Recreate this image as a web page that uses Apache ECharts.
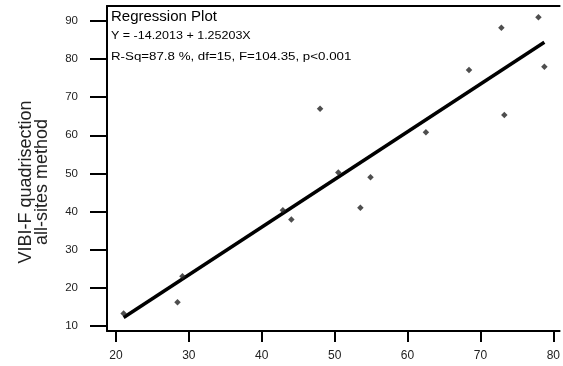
<!DOCTYPE html>
<html>
<head>
<meta charset="utf-8">
<script src="https://cdn.jsdelivr.net/npm/echarts@6/dist/echarts.min.js"></script>
<style>html,body{margin:0;padding:0;background:#fff}#c{width:563px;height:366px}</style>
</head>
<body>
<div id="c"></div>
<script>
var obsX = [21.05, 28.44, 29.12, 42.90, 44.06, 48.0, 50.50, 53.53, 54.92, 62.52, 68.43, 72.87, 73.28, 77.96, 78.77];
var obsY = [13.2, 16.15, 22.97, 40.3, 37.9, 66.98, 50.2, 40.98, 48.97, 60.78, 77.14, 88.24, 65.32, 90.97, 78.0];
// Fitted regression line endpoints
var fitX = [21.05, 78.77];
var fitY = [12.15, 84.42];
// Tick labels
var xTicks = [20, 30, 40, 50, 60, 70, 80];
var yTicks = [10, 20, 30, 40, 50, 60, 70, 80, 90];
var titleText = 'Regression Plot';
var eqText = 'Y = -14.2013 + 1.25203X';
var statText = 'R-Sq=87.8 %, df=15, F=104.35, p<0.001';
var yName = 'VIBI-F quadrisection\nall-sites method';

var FONT = '"Liberation Sans", Arial, sans-serif';
var chart = echarts.init(document.getElementById('c'), null, {renderer: 'canvas'});
var scatterData = obsX.map(function (x, i) { return [x, obsY[i]]; });
var fitData = fitX.map(function (x, i) { return [x, fitY[i]]; });
var axLine = {show: true, lineStyle: {color: '#000', width: 2}};
chart.setOption({
  animation: false,
  backgroundColor: '#fff',
  grid: {left: 107, top: 6, right: 0, bottom: 35, containLabel: false},
  xAxis: [{
    type: 'value', min: 18.77, max: 80.86, position: 'bottom',
    axisLine: axLine,
    splitLine: {show: false},
    axisTick: {show: true, customValues: xTicks, length: 11, lineStyle: {color: '#000', width: 2}},
    axisLabel: {customValues: xTicks, margin: 19, fontSize: 12, color: '#222', fontFamily: FONT}
  }, {
    type: 'value', min: 18.77, max: 80.86, position: 'top',
    axisLine: axLine, splitLine: {show: false},
    axisTick: {show: false}, axisLabel: {show: false}
  }],
  yAxis: [{
    type: 'value', min: 8.6, max: 93.94,
    axisLine: axLine,
    splitLine: {show: false},
    axisTick: {show: true, customValues: yTicks, length: 17, lineStyle: {color: '#000', width: 2}},
    axisLabel: {customValues: yTicks, margin: 29, fontSize: 11.5, color: '#222', fontFamily: FONT}
  }],
  series: [{
    type: 'line', data: fitData, showSymbol: false, silent: true,
    lineStyle: {color: '#000', width: 3.5}, z: 2
  }, {
    type: 'scatter', data: scatterData, symbol: 'diamond', symbolSize: 6.5,
    itemStyle: {color: '#222'}, z: 3
  }],
  graphic: [
    {type: 'text', left: 111, top: 9, style: {text: titleText, font: '15px ' + FONT, fill: '#000'}},
    {type: 'text', x: 111, y: 36, scaleX: 1.25, style: {text: eqText, font: '10px ' + FONT, fill: '#000', verticalAlign: 'middle'}},
    {type: 'text', x: 111, y: 57, scaleX: 1.33, style: {text: statText, font: '10px ' + FONT, fill: '#000', verticalAlign: 'middle'}},
    {type: 'text', x: 34, y: 182, rotation: Math.PI / 2,
     style: {text: yName, font: '18px ' + FONT, lineHeight: 16, fill: '#222', align: 'center', verticalAlign: 'middle'}}
  ]
});
</script>
</body>
</html>
